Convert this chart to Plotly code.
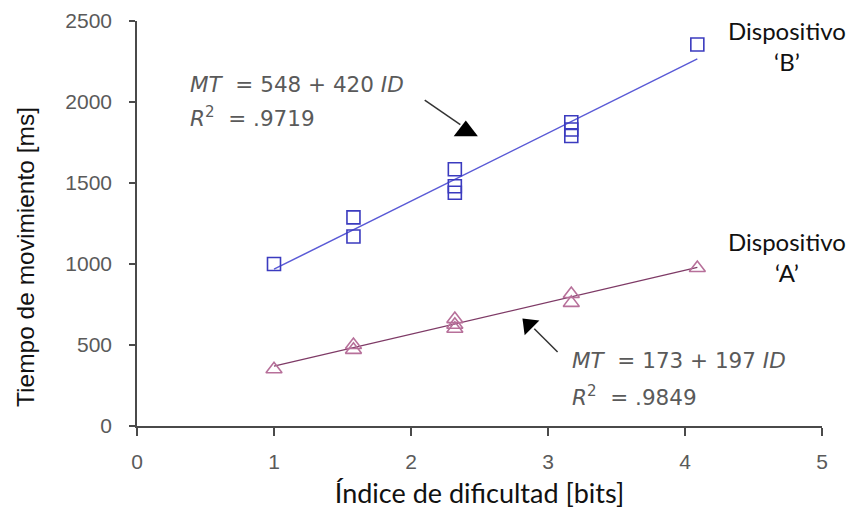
import plotly.graph_objects as go

# Data
id_b = [1.0, 1.58, 1.58, 2.32, 2.32, 2.32, 3.17, 3.17, 3.17, 4.09]
mt_b = [1000, 1288, 1170, 1585, 1480, 1440, 1875, 1830, 1790, 2355]
id_a = [1.0, 1.58, 1.58, 2.32, 2.32, 2.32, 3.17, 3.17, 4.09]
mt_a = [350, 500, 470, 660, 625, 600, 815, 760, 975]

fit_b = (548, 420)
fit_a = (173, 197)
fit_range = [1.0, 4.09]

x_ticks = [0, 1, 2, 3, 4, 5]
y_ticks = [0, 500, 1000, 1500, 2000, 2500]

# callout arrows (tail -> end of shaft, head position/rotation), in data units
arrow_b = dict(x0=2.10, y0=2012, x1=2.36, y1=1860, hx=2.40, hy=1821, angle=0, size=21)
arrow_a = dict(x0=3.07, y0=457, x1=2.90, y1=600, hx=2.86, hy=625, angle=-45, size=18)

BLUE_M = "#3b3bbf"
BLUE_L = "#5a5ad6"
PINK_M = "#b7709a"
PINK_L = "#7e3a66"
GRAY = "#5a5a5a"
AXIS = "#4a4a4a"

fig = go.Figure()

fig.add_trace(go.Scatter(
    x=fit_range, y=[fit_b[0] + fit_b[1] * v for v in fit_range],
    mode="lines", line=dict(color=BLUE_L, width=1.5), showlegend=False))
fig.add_trace(go.Scatter(
    x=fit_range, y=[fit_a[0] + fit_a[1] * v for v in fit_range],
    mode="lines", line=dict(color=PINK_L, width=1.3), showlegend=False))
fig.add_trace(go.Scatter(
    x=id_b, y=mt_b, mode="markers",
    marker=dict(symbol="square-open", size=13, color=BLUE_M, line=dict(width=1.6)),
    showlegend=False))
fig.add_trace(go.Scatter(
    x=id_a, y=mt_a, mode="markers",
    marker=dict(symbol="triangle-up-open", size=14, color=PINK_M, line=dict(width=1.6)),
    showlegend=False))

shapes = []
for a in (arrow_b, arrow_a):
    shapes.append(dict(type="line", xref="x", yref="y", x0=a["x0"], y0=a["y0"],
                       x1=a["x1"], y1=a["y1"], line=dict(color="#333333", width=1.5)))
    fig.add_trace(go.Scatter(
        x=[a["hx"]], y=[a["hy"]], mode="markers",
        marker=dict(symbol="triangle-up", size=a["size"], angle=a["angle"],
                    color="#000000", line=dict(width=0)),
        showlegend=False))

eq_font = dict(family="DejaVu Sans", size=21.5, color=GRAY)
lab_font = dict(family="Lato", size=24, color="#111111")

# page-pixel placement helpers (plot area: x 137..822, y 21..426)
def px(xp):
    return (xp - 137) / 685

def py(yp):
    return (426 - yp) / 405

ann = []
for txt, xp, yp in [
    ("<i>MT</i>  = 548 + 420 <i>ID</i>", 188, 85),
    ("<i>R</i><sup>2</sup>  = .9719", 188, 117),
    ("<i>MT</i>  = 173 + 197 <i>ID</i>", 570, 360),
    ("<i>R</i><sup>2</sup>  = .9849", 570, 396),
]:
    ann.append(dict(x=px(xp), y=py(yp), xref="paper", yref="paper", text=txt,
                    showarrow=False, xanchor="left", yanchor="middle", font=eq_font))

for txt, yp in [("Dispositivo<br>‘B’", 46), ("Dispositivo<br>‘A’", 257)]:
    ann.append(dict(x=px(787), y=py(yp), xref="paper", yref="paper",
                    text=txt, showarrow=False, xanchor="center", yanchor="middle",
                    align="center", font=lab_font))

# y-axis title (sits below the plot-area centre in the reference)
ann.append(dict(x=px(25), y=py(257), xref="paper", yref="paper",
                text="Tiempo de movimiento [ms]", textangle=-90, showarrow=False,
                xanchor="center", yanchor="middle",
                font=dict(family="Liberation Sans, Arial", size=24.5, color="#111111")))

fig.update_layout(
    width=850, height=523,
    margin=dict(l=129, r=36, t=13, b=105, autoexpand=False),
    paper_bgcolor="white", plot_bgcolor="white",
    annotations=ann, shapes=shapes,
    showlegend=False,
)
fig.update_xaxes(
    range=[0, 5], tickvals=x_ticks, ticktext=[str(v) for v in x_ticks],
    showgrid=False, zeroline=False, showline=True, linecolor=AXIS, linewidth=1.5,
    ticks="outside", ticklen=8, tickcolor=AXIS, tickwidth=1.5,
    ticklabelstandoff=8,
    tickfont=dict(family="Liberation Sans, Arial", size=21, color=GRAY),
    title=dict(text="Índice de dificultad [bits]", standoff=12,
               font=dict(family="Lato", size=27, color="#111111")),
    automargin=False,
)
fig.update_yaxes(
    range=[0, 2500], tickvals=y_ticks, ticktext=[str(v) for v in y_ticks],
    showgrid=False, zeroline=False, showline=True, linecolor=AXIS, linewidth=1.5,
    ticks="outside", ticklen=6, tickcolor=AXIS, tickwidth=1.5,
    ticklabelstandoff=13,
    tickfont=dict(family="Liberation Sans, Arial", size=21, color=GRAY),
    automargin=False,
)

fig.write_html("out.html")
